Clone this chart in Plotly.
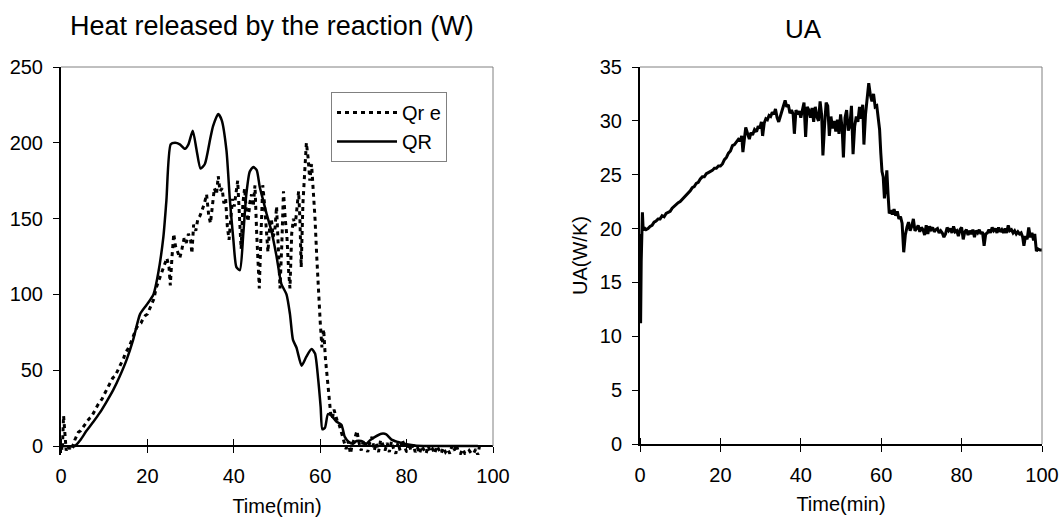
import plotly.graph_objects as go

# ---------------- data ----------------
qre_time = [0.0, 0.3, 0.6, 0.9, 1.2, 1.6, 2.0, 2.4, 2.8, 3.2, 3.6, 4.0, 4.5, 5.0, 5.5, 6.0, 6.5, 7.0, 7.5, 8.0,
            8.5, 9.0, 9.5, 10.0, 10.5, 11.0, 11.5, 12.0, 12.5, 13.0, 13.5, 14.0, 14.5, 15.0, 15.5, 16.0, 16.5,
            17.0, 17.5, 18.0, 18.5, 19.0, 19.5, 20.0, 20.5, 21.0, 21.5, 22.0, 22.5, 23.0, 23.5, 24.0, 24.5,
            25.0, 25.3, 25.7, 26.1, 26.5, 27.0, 27.5, 28.0, 28.5, 29.0, 29.5, 30.0, 30.3, 30.7, 31.2, 31.7,
            32.2, 32.7, 33.2, 33.7, 34.2, 34.6, 35.0, 35.5, 36.0, 36.4, 36.8, 37.3, 37.7, 38.1, 38.5, 38.9,
            39.3, 39.7, 40.1, 40.5, 40.9, 41.3, 41.7, 42.1, 42.5, 42.9, 43.3, 43.7, 44.1, 44.5, 44.9, 45.3,
            45.6, 45.9, 46.3, 46.7, 47.1, 47.5, 47.9, 48.3, 48.7, 49.1, 49.5, 49.9, 50.3, 50.7, 51.1, 51.5,
            51.9, 52.3, 52.7, 53.0, 53.4, 53.8, 54.2, 54.6, 55.0, 55.3, 55.6, 56.0, 56.4, 56.8, 57.2, 57.6,
            58.0, 58.4, 58.8, 59.2, 59.6, 60.0, 60.4, 60.8, 61.2, 61.6, 62.0, 62.4, 62.8, 63.2, 63.6, 64.0,
            64.4, 64.8, 65.2, 65.6, 66.0, 66.5, 67.0, 67.5, 68.0, 68.5, 69.0, 69.5, 70.0, 70.5, 71.0, 71.5,
            72.0, 72.5, 73.0, 73.5, 74.0, 74.5, 75.0, 75.5, 76.0, 76.5, 77.0, 77.5, 78.0, 78.5, 79.0, 79.5,
            80.0, 80.5, 81.0, 81.5, 82.0, 82.5, 83.0, 83.5, 84.0, 84.5, 85.0, 85.5, 86.0, 86.5, 87.0, 87.5,
            88.0, 88.5, 89.0, 89.5, 90.0, 90.5, 91.0, 91.5, 92.0, 92.5, 93.0, 93.5, 94.0, 94.5, 95.0, 95.5,
            96.0, 96.5, 97.0]
qre_values = [0, -3, 20, 5, -3, 0, -2, 1, 0, 4, 7, 9, 10, 12, 14, 16, 18, 19, 22, 24,
              27, 29, 31, 34, 37, 40, 42, 45, 46, 49, 51, 55, 58, 62, 64, 67, 71,
              74, 78, 80, 81, 84, 86, 87, 90, 94, 97, 104, 108, 112, 117, 120, 124,
              118, 106, 125, 140, 132, 128, 124, 130, 137, 134, 140, 136, 127, 146, 142, 150,
              152, 156, 160, 166, 152, 147, 158, 170, 166, 178, 168, 170, 160, 163, 145, 136,
              150, 163, 158, 168, 175, 152, 130, 160, 170, 155, 148, 160, 166, 158, 172, 140,
              118, 104, 140, 172, 160, 140, 128, 144, 150, 138, 142, 158, 128, 104, 132, 168,
              150, 138, 115, 104, 140, 150, 145, 158, 168, 150, 118, 160, 182, 200, 190, 175,
              186, 170, 150, 125, 100, 82, 65, 77, 58, 45, 30, 22, 18, 24, 20, 16,
              14, 10, 6, 2, -2, 3, -5, 2, 5, 10, 2, -3, 4, 1, -4, 3,
              6, -3, 2, -4, 4, 1, -3, 2, -4, 3, -2, -5, 2, -3, 4, 0,
              -4, 2, -3, 1, -4, -1, -5, 0, -3, -5, 0, -4, -2, -5, 0, -3,
              -5, -1, -4, -2, -5, 0, -3, 1, -4, -5, -2, -5, -5, -3, -5, -5,
              -2, -6, 2]

qr_time = [0.0, 3.2, 4.5, 5.9, 7.5, 9.0, 10.5, 12.1, 13.6, 15.2, 16.7, 18.3, 19.8, 21.4, 22.5, 23.7,
           24.4, 25.4, 26.4, 27.5, 28.7, 29.5, 30.5, 31.4, 32.3, 33.3, 34.5, 35.2, 36.4, 37.2, 38.3,
           39.1, 39.9, 40.6, 41.4, 42.2, 42.9, 43.7, 44.5, 45.3, 46.0, 46.8, 47.6, 48.7, 49.9, 51.0,
           52.2, 53.0, 53.7, 54.5, 55.7, 56.8, 58.0, 58.8, 59.5, 60.1, 60.5, 61.1, 61.8, 62.6, 63.8,
           64.9, 65.7, 66.5, 67.6, 68.4, 69.5, 70.7, 71.5, 72.6, 74.2, 75.3, 76.5, 78.0, 80.0, 82.3,
           88.0, 92.3, 96.5]
qr_values = [0, 0, 4, 10, 16, 22, 29, 37, 46, 57, 70, 87, 93, 100, 114, 138,
             162, 199, 200, 199, 196, 199, 208, 195, 183, 186, 202, 211, 219, 215, 195,
             162, 136, 118, 116, 140, 166, 181, 184, 182, 171, 162, 153, 142, 125, 107,
             100, 87, 70, 65, 53, 59, 64, 61, 45, 26, 11, 12, 21, 20, 16,
             14, 6, 3, 1.5, 3.3, 3.3, 1.5, 3.7, 5.9, 8.1, 7.7, 4.2, 2.6, 1.1, 0.2,
             0, 0, 0]

ua_time = [0.0, 0.15, 0.3, 0.45, 0.6, 0.8, 1.0, 1.5, 2.0, 2.5, 3.0, 3.5, 4.0, 4.5, 5.0, 5.5, 6.0, 6.5,
           7.0, 7.5, 8.0, 8.5, 9.0, 9.5, 10.0, 10.5, 11.0, 11.5, 12.0, 12.5, 13.0, 13.5, 14.0, 14.5,
           15.0, 15.5, 16.0, 16.5, 17.0, 17.5, 18.0, 18.5, 19.0, 19.5, 20.0, 20.5, 21.0, 21.5, 22.0,
           22.5, 23.0, 23.5, 24.0, 24.5, 25.0, 25.3, 25.6, 26.0, 26.3, 26.7, 27.2, 27.6, 28.0, 28.5,
           29.0, 29.4, 29.8, 30.2, 30.5, 30.9, 31.3, 31.7, 32.1, 32.5, 32.9, 33.3, 33.7, 34.1, 34.5,
           34.9, 35.3, 35.7, 36.1, 36.5, 36.9, 37.3, 37.7, 38.1, 38.4, 38.8, 39.2, 39.6, 40.0, 40.4,
           40.8, 41.2, 41.6, 42.0, 42.4, 42.8, 43.2, 43.6, 44.0, 44.4, 44.8, 45.2, 45.5, 45.9, 46.3,
           46.7, 47.1, 47.5, 47.9, 48.3, 48.7, 49.1, 49.5, 49.9, 50.3, 50.6, 51.0, 51.4, 51.8, 52.2,
           52.6, 53.0, 53.4, 53.8, 54.2, 54.6, 55.0, 55.4, 55.7, 56.1, 56.5, 56.9, 57.3, 57.7, 58.1,
           58.5, 58.9, 59.3, 59.6, 59.9, 60.2, 60.5, 60.8, 61.1, 61.4, 61.7, 62.0, 62.4, 62.8, 63.2,
           63.6, 64.0, 64.4, 64.8, 65.2, 65.6, 66.0, 66.4, 66.8, 67.2, 67.6, 68.0, 68.4, 68.8, 69.2,
           69.6, 70.0, 70.4, 70.8, 71.2, 71.6, 72.0, 72.4, 72.8, 73.2, 73.6, 74.0, 74.4, 74.8, 75.2,
           75.6, 76.0, 76.4, 76.8, 77.2, 77.6, 78.0, 78.4, 78.8, 79.2, 79.6, 80.0, 80.4, 80.8, 81.2,
           81.6, 82.0, 82.4, 82.8, 83.2, 83.6, 84.0, 84.4, 84.8, 85.2, 85.6, 86.0, 86.4, 86.8, 87.2,
           87.6, 88.0, 88.4, 88.8, 89.2, 89.6, 90.0, 90.4, 90.8, 91.2, 91.6, 92.0, 92.4, 92.8, 93.2,
           93.6, 94.0, 94.4, 94.8, 95.2, 95.5, 95.9, 96.3, 96.7, 97.1, 97.5, 97.9, 98.2, 98.6, 99.0,
           99.5, 100.0]
ua_values = [19.5, 11.2, 17.0, 20.5, 21.5, 19.8, 20.1, 19.9, 20.0, 20.2, 20.3, 20.6, 20.7, 20.9, 20.9, 21.2, 21.1, 21.4,
             21.5, 21.6, 21.9, 22.1, 22.2, 22.4, 22.5, 22.7, 22.9, 23.1, 23.4, 23.5, 23.8, 23.9, 24.2, 24.3,
             24.6, 24.8, 24.8, 25.1, 25.2, 25.3, 25.4, 25.6, 25.6, 25.8, 25.8, 26.0, 26.4, 26.6, 27.0,
             27.2, 27.7, 27.8, 28.0, 28.3, 28.2, 28.6, 27.1, 28.2, 29.4, 28.9, 28.3, 28.9, 28.7, 29.2,
             29.0, 29.5, 29.3, 29.9, 28.6, 29.8, 30.2, 30.1, 30.5, 30.4, 30.8, 30.6, 31.1, 30.3, 29.9,
             30.4, 31.0, 31.4, 31.9, 31.3, 31.5, 30.7, 31.0, 30.6, 28.8, 31.0, 30.6, 30.9, 30.3, 31.1,
             31.7, 28.5, 31.3, 31.0, 30.3, 31.2, 29.9, 31.3, 30.4, 30.0, 31.8, 30.5, 26.8, 29.5, 31.7,
             31.4, 28.6, 30.4, 29.3, 30.0, 29.0, 30.1, 28.8, 30.6, 29.2, 26.6, 30.3, 31.0, 29.1, 29.5,
             31.4, 26.9, 29.5, 30.4, 29.9, 31.3, 30.2, 31.5, 27.8, 30.6, 32.1, 33.5, 32.4, 31.8, 32.5,
             31.3, 31.4, 30.1, 29.2, 27.0, 25.3, 24.8, 22.8, 23.9, 25.4, 23.2, 21.4, 21.7, 21.3, 21.8,
             21.2, 21.6, 20.9, 21.1, 20.5, 17.8, 19.4, 20.1, 20.6, 19.8, 20.2, 20.9, 19.8, 20.0, 20.3,
             19.7, 20.1, 19.9, 19.4, 20.3, 19.5, 20.2, 19.9, 20.1, 19.7, 19.9, 20.0, 19.6, 19.8, 19.6,
             19.2, 19.5, 20.1, 19.8, 20.0, 19.6, 20.2, 19.7, 19.8, 19.3, 19.9, 20.1, 19.0, 19.7, 19.9,
             19.4, 19.8, 19.5, 19.9, 19.2, 19.8, 19.6, 19.9, 19.5, 19.7, 18.4, 19.5, 19.6, 19.9, 19.6,
             20.1, 19.8, 20.0, 19.6, 20.1, 19.7, 19.9, 19.6, 20.0, 19.6, 20.3, 19.8, 19.9, 19.6, 19.8,
             19.5, 19.7, 19.5, 19.6, 19.2, 18.4, 19.3, 19.0, 20.1, 19.2, 19.6, 18.9, 19.5, 17.9, 18.1,
             18.0, 18.0]

x_ticks = [0, 20, 40, 60, 80, 100]
q_ticks = [0, 50, 100, 150, 200, 250]
ua_ticks = [0, 5, 10, 15, 20, 25, 30, 35]

title_left = "Heat released by the reaction (W)"
title_right = "UA"
x_label = "Time(min)"
ua_label = "UA(W/K)"

# ---------------- layout geometry ----------------
W, H = 1059, 517
FONT = "Liberation Sans, Arial, sans-serif"
Q_RANGE = [-6, 250]
UA_RANGE = [0, 35]
left_dom_x = [61 / W, 493 / W]
left_dom_y = [1 - 455.1 / H, 1 - 67 / H]
right_dom_x = [640 / W, 1042 / W]
right_dom_y = [1 - 444 / H, 1 - 67 / H]
# position of y = 0 inside the left plot (paper coords)
zero_pos = left_dom_y[0] + (0 - Q_RANGE[0]) / (Q_RANGE[1] - Q_RANGE[0]) * (left_dom_y[1] - left_dom_y[0])

fig = go.Figure()
fig.add_trace(go.Scatter(x=qre_time, y=qre_values, name="Qr e", mode="lines",
                         line=dict(color="black", width=3, dash="4px,4px"),
                         xaxis="x", yaxis="y"))
fig.add_trace(go.Scatter(x=qr_time, y=qr_values, name="QR", mode="lines",
                         line=dict(color="black", width=2.5, shape="spline", smoothing=0.6),
                         xaxis="x", yaxis="y"))
fig.add_trace(go.Scatter(x=ua_time, y=ua_values, name="UA", mode="lines",
                         line=dict(color="black", width=3), showlegend=False,
                         xaxis="x2", yaxis="y2"))

tickfont = dict(family=FONT, size=20, color="black")
common_x = dict(range=[0, 100], tickvals=x_ticks, showgrid=False, zeroline=False,
                showline=True, linecolor="black", linewidth=2, automargin=False,
                ticks="outside", ticklen=6, tickwidth=1.3, tickcolor="black",
                minor=dict(tickmode="array", tickvals=[v + 0.02 for v in x_ticks],
                           ticks="inside", ticklen=6, tickwidth=1.3, tickcolor="black"),
                tickfont=tickfont, ticklabelstandoff=6,
                title=dict(text=x_label, font=tickfont, standoff=12))
common_y = dict(showgrid=False, zeroline=False, showline=True, linecolor="black", linewidth=2,
                automargin=False,
                ticks="outside", ticklen=6, tickwidth=1.3, tickcolor="black",
                tickfont=tickfont, ticklabelstandoff=6)

fig.update_layout(
    width=W, height=H, margin=dict(l=0, r=0, t=0, b=0, autoexpand=False),
    paper_bgcolor="white", plot_bgcolor="white",
    font=dict(family=FONT, size=20, color="black"),
    xaxis=dict(domain=left_dom_x, anchor="free", position=zero_pos, **common_x),
    yaxis=dict(domain=left_dom_y, range=Q_RANGE, tickvals=q_ticks, anchor="x", **common_y),
    xaxis2=dict(domain=right_dom_x, anchor="y2", **common_x),
    yaxis2=dict(domain=right_dom_y, range=UA_RANGE, tickvals=ua_ticks, anchor="x2",
                title=dict(text=ua_label, font=tickfont, standoff=7), **common_y),
    legend=dict(x=331 / W, y=1 - 92 / H, xanchor="left", yanchor="top",
                bgcolor="white", bordercolor="#808080", borderwidth=1,
                font=dict(family=FONT, size=20, color="black"),
                itemwidth=60, tracegroupgap=4,
                entrywidth=105, entrywidthmode="pixels"),
    showlegend=True,
    annotations=[
        dict(text=title_left, x=272 / W, y=1 - 26 / H, xref="paper", yref="paper",
             showarrow=False, xanchor="center", yanchor="middle",
             font=dict(family=FONT, size=27, color="black")),
        dict(text=title_right, x=803 / W, y=1 - 29 / H, xref="paper", yref="paper",
             showarrow=False, xanchor="center", yanchor="middle",
             font=dict(family=FONT, size=26, color="black")),
    ],
    shapes=[
        # grey plot-area frame (top and right edges)
        dict(type="line", xref="x domain", yref="y domain", x0=0, x1=1, y0=1, y1=1,
             line=dict(color="#808080", width=1)),
        dict(type="line", xref="x domain", yref="y", x0=1, x1=1, y0=0, y1=Q_RANGE[1],
             line=dict(color="#808080", width=1)),
        dict(type="line", xref="x2 domain", yref="y2 domain", x0=0, x1=1, y0=1, y1=1,
             line=dict(color="#808080", width=1)),
        dict(type="line", xref="x2 domain", yref="y2 domain", x0=1, x1=1, y0=0, y1=1,
             line=dict(color="#808080", width=1)),
    ],
)

fig.write_html("out.html", config={"displayModeBar": False},
               post_script="document.body.style.margin='0px';document.body.style.overflow='hidden';")
